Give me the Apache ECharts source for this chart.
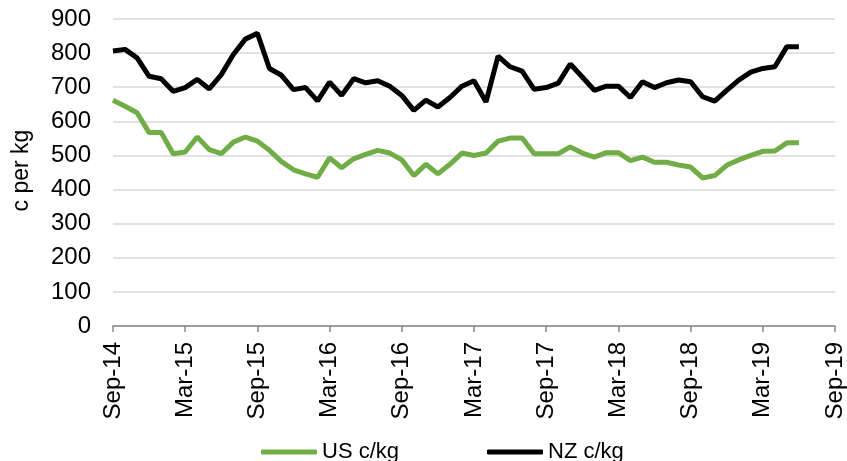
<!DOCTYPE html>
<html>
<head>
<meta charset="utf-8">
<script src="https://cdn.jsdelivr.net/npm/echarts@6/dist/echarts.min.js"></script>
<style>
  html, body { margin: 0; padding: 0; background: #fff; }
  #chart { width: 847px; height: 461px; }
</style>
</head>
<body>
<div id="chart"></div>
<script>
// monthly, Sep-14 .. Jun-19
var tickLabels = ['Sep-14', 'Mar-15', 'Sep-15', 'Mar-16', 'Sep-16', 'Mar-17',
    'Sep-17', 'Mar-18', 'Sep-18', 'Mar-19', 'Sep-19'];

var usValues = [662, 644, 625, 567,
    567, 505, 510, 554, 517, 505, 539, 554, 542, 515, 482, 458,
    446, 436, 493, 464, 490, 503, 515, 507, 487, 441, 474, 446,
    474, 507, 500, 507, 542, 551, 551, 505, 505, 505, 525, 507,
    495, 508, 508, 485, 495, 480, 480, 472, 466, 434, 441, 471,
    487, 500, 512, 513, 537, 537];

var nzValues = [806, 811, 786, 732,
    725, 688, 699, 723, 695, 737, 796, 841, 858, 755, 735, 693,
    699, 660, 715, 676, 725, 713, 719, 703, 676, 632, 662, 642,
    670, 703, 719, 657, 791, 760, 747, 694, 699, 712, 768, 730,
    691, 703, 703, 670, 716, 699, 713, 721, 716, 672, 659, 691,
    721, 744, 755, 760, 819, 819];

function toPoints(arr) {
    return arr.map(function (v, i) { return [i, v]; });
}

var myChart = echarts.init(document.getElementById('chart'));

var font = 'Arial, Liberation Sans, sans-serif';

var option = {
    animation: false,
    grid: { left: 113, right: 9, top: 19, bottom: 135 },
    legend: {
        top: 436,
        left: 256,
        itemWidth: 56,
        itemHeight: 5,
        itemGap: 88,
        icon: 'roundRect',
        textStyle: { fontFamily: font, fontSize: 22, color: '#000' },
        data: ['US c/kg', 'NZ c/kg']
    },
    xAxis: {
        type: 'value',
        min: 0,
        max: 60,
        interval: 6,
        splitLine: { show: false },
        axisLine: { lineStyle: { color: '#888', width: 1.5 } },
        axisTick: { show: true, length: 6, lineStyle: { color: '#888', width: 1.5 } },
        axisLabel: {
            rotate: 90,
            margin: 16,
            fontFamily: font,
            fontSize: 24,
            color: '#000',
            formatter: function (v) { return tickLabels[v / 6]; }
        }
    },
    yAxis: {
        type: 'value',
        min: 0,
        max: 900,
        interval: 100,
        name: 'c per kg',
        nameLocation: 'middle',
        nameGap: 80,
        nameTextStyle: { fontFamily: font, fontSize: 23, color: '#000', padding: [0, 0, 0, 4] },
        axisLine: { show: false },
        axisTick: { show: false },
        axisLabel: { fontFamily: font, fontSize: 24, color: '#000', margin: 22 },
        splitLine: { lineStyle: { color: '#d9d9d9', width: 1.5 } }
    },
    series: [
        {
            name: 'US c/kg',
            type: 'line',
            data: toPoints(usValues),
            showSymbol: false,
            lineStyle: { color: '#70ad47', width: 5 },
            itemStyle: { color: '#70ad47' }
        },
        {
            name: 'NZ c/kg',
            type: 'line',
            data: toPoints(nzValues),
            showSymbol: false,
            lineStyle: { color: '#000', width: 5 },
            itemStyle: { color: '#000' }
        }
    ]
};

myChart.setOption(option);
</script>
</body>
</html>
